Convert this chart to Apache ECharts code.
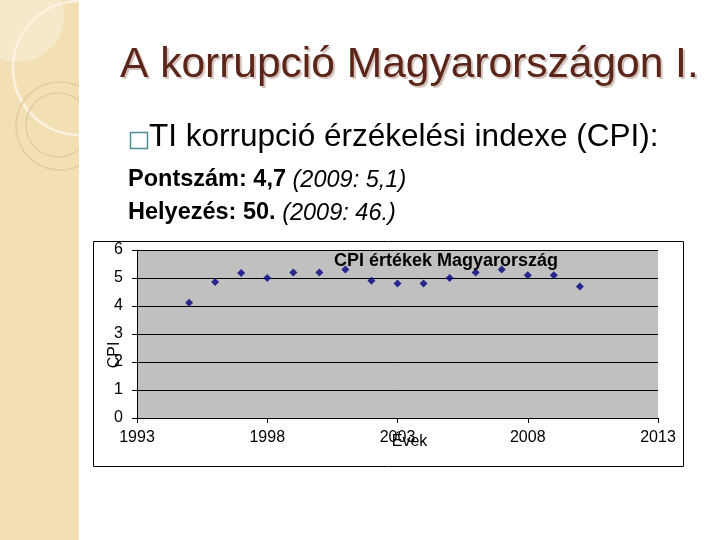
<!DOCTYPE html>
<html>
<head>
<meta charset="utf-8">
<script src="https://cdn.jsdelivr.net/npm/echarts@6/dist/echarts.min.js"></script>
<style>
  html, body { margin: 0; padding: 0; background: #fff; }
  #chart { width: 720px; height: 540px; }
</style>
</head>
<body>
<div id="chart"></div>
<script>
// CPI értékek (Transparency International), Magyarország
const years = [1995, 1996, 1997, 1998, 1999, 2000, 2001, 2002, 2003, 2004, 2005, 2006, 2007, 2008, 2009, 2010]
const cpiValues = [4.12, 4.86, 5.18, 5.0, 5.2, 5.2, 5.3, 4.9, 4.8, 4.8, 5.0, 5.2, 5.3, 5.1, 5.1, 4.7]
const yTicks = [0, 1, 2, 3, 4, 5, 6]
const xTicks = [1993, 1998, 2003, 2008, 2013]

const chart = echarts.init(document.getElementById('chart'))
const font = 'Liberation Sans, Arial, sans-serif'

const option = {
  backgroundColor: '#fff',
  animation: false,
  title: {
    text: 'CPI értékek Magyarország',
    left: 329,
    top: 247,
    textStyle: { fontFamily: font, fontSize: 18, fontWeight: 'bold', color: '#000' }
  },
  graphic: [
    // bal oldali díszcsík
    { type: 'rect', shape: { x: 0, y: 0, width: 79, height: 540 }, style: { fill: '#f2dfb4' }, z: 0 },
    {
      type: 'group', z: 0,
      clipPath: { type: 'rect', shape: { x: 0, y: 0, width: 79, height: 540 } },
      children: [
        { type: 'circle', shape: { cx: 18, cy: 16, r: 46 }, style: { fill: '#f6e8cb', stroke: null } },
        { type: 'circle', shape: { cx: 80, cy: 68, r: 67 }, style: { fill: null, stroke: '#fbf2df', lineWidth: 2.5 } },
        { type: 'circle', shape: { cx: 60, cy: 126, r: 44 }, style: { fill: null, stroke: '#e4cd9e', lineWidth: 1.5 } },
        { type: 'circle', shape: { cx: 58, cy: 125, r: 32 }, style: { fill: null, stroke: '#e4cd9e', lineWidth: 1.5 } }
      ]
    },
    // dia címe
    {
      type: 'text', left: 120, top: 44, z: 5,
      style: {
        text: 'A korrupció Magyarországon I.',
        font: '42.5px ' + font, fill: '#5b2519',
        textShadowColor: 'rgba(120,80,60,0.35)', textShadowOffsetX: 2, textShadowOffsetY: 2, textShadowBlur: 1
      }
    },
    {
      type: 'rect', z: 5, shape: { x: 130.5, y: 132.5, width: 17, height: 16 },
      style: { fill: null, stroke: '#4f8c99', lineWidth: 1.5 }
    },
    {
      type: 'text', left: 149, top: 121, z: 5,
      style: { text: 'TI korrupció érzékelési indexe (CPI):', font: '31.5px ' + font, fill: '#000' }
    },
    {
      type: 'text', left: 128, top: 168, z: 5,
      style: {
        text: '{b|Pontszám: 4,7 }{i|(2009: 5,1)}',
        rich: {
          b: { fontFamily: font, fontSize: 23.5, fontWeight: 'bold', fill: '#000', color: '#000' },
          i: { fontFamily: font, fontSize: 23.5, fontStyle: 'italic', fill: '#000', color: '#000' }
        }
      }
    },
    {
      type: 'text', left: 128, top: 201, z: 5,
      style: {
        text: '{b|Helyezés: 50. }{i|(2009: 46.)}',
        rich: {
          b: { fontFamily: font, fontSize: 23.5, fontWeight: 'bold', fill: '#000', color: '#000' },
          i: { fontFamily: font, fontSize: 23.5, fontStyle: 'italic', fill: '#000', color: '#000' }
        }
      }
    },
    // diagram kerete
    {
      type: 'rect', z: -1, shape: { x: 93.5, y: 241.5, width: 590, height: 225 },
      style: { fill: '#fff', stroke: '#000', lineWidth: 1 }
    }
  ],
  grid: {
    left: 137, right: 62, top: 250, bottom: 122,
    show: true, backgroundColor: '#c0c0c0', borderWidth: 0
  },
  xAxis: {
    type: 'value',
    min: xTicks[0], max: xTicks[xTicks.length - 1], interval: 5,
    name: 'Évek', nameLocation: 'middle', nameGap: 16, nameMoveOverlap: false,
    nameTextStyle: { fontFamily: font, fontSize: 16, color: '#000', padding: [0, 0, 0, 24] },
    axisLine: { show: true, lineStyle: { color: '#000', width: 1 } },
    axisTick: { show: true, length: 5, lineStyle: { color: '#000' } },
    axisLabel: { fontFamily: font, fontSize: 16, color: '#000', margin: 12, formatter: (v) => String(v) },
    splitLine: { show: false }
  },
  yAxis: {
    type: 'value',
    min: yTicks[0], max: yTicks[yTicks.length - 1], interval: 1,
    name: 'CPI', nameLocation: 'middle', nameGap: 14, nameRotate: 90, nameMoveOverlap: false,
    nameTextStyle: { fontFamily: font, fontSize: 16, color: '#000', padding: [0, 42, 0, 0] },
    axisLine: { show: true, lineStyle: { color: '#000', width: 1 } },
    axisTick: { show: true, length: 5, lineStyle: { color: '#000' } },
    axisLabel: { fontFamily: font, fontSize: 16, color: '#000', margin: 14 },
    splitLine: { show: true, lineStyle: { color: '#000', width: 1 } }
  },
  series: [{
    type: 'scatter',
    data: years.map((y, i) => [y, cpiValues[i]]),
    symbol: 'diamond',
    symbolSize: 8,
    itemStyle: { color: '#000080' }
  }]
}

chart.setOption(option)
</script>
</body>
</html>
